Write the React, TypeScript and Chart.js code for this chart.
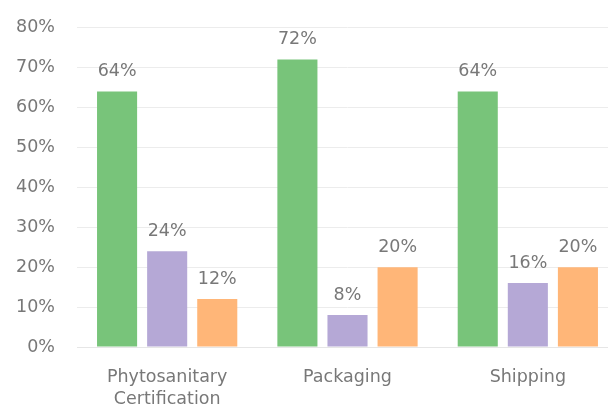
import React, { useEffect, useRef } from "react";
import { Chart, registerables } from "chart.js";

Chart.register(...registerables);

const categories: (string | string[])[] = [["Phytosanitary", "Certification"], "Packaging", "Shipping"];
const seriesA = [64, 72, 64];
const seriesB = [24, 8, 16];
const seriesC = [12, 20, 20];
const yTicks = [0, 10, 20, 30, 40, 50, 60, 70, 80];

const TEXT = "#787878";
const FONT = "'DejaVu Sans', sans-serif";
const SIZE = 17.5;

const labelPlugin = {
  id: "barLabels",
  afterDatasetsDraw(chart: any) {
    const ctx = chart.ctx;
    ctx.save();
    ctx.font = `${SIZE}px ${FONT}`;
    ctx.fillStyle = TEXT;
    ctx.textAlign = "center";
    ctx.textBaseline = "middle";
    chart.data.datasets.forEach((ds: any, i: number) => {
      const meta = chart.getDatasetMeta(i);
      meta.data.forEach((bar: any, j: number) => {
        ctx.fillText(`${ds.data[j]}%`, bar.x, bar.y - 20);
      });
    });
    ctx.restore();
  },
};

export default function App() {
  const ref = useRef<HTMLCanvasElement>(null);
  useEffect(() => {
    document.body.style.overflow = "hidden";
    const chart = new Chart(ref.current!, {
      type: "bar",
      data: {
        labels: categories,
        datasets: [
          { label: "A", data: seriesA, backgroundColor: "#78c47a" },
          { label: "B", data: seriesB, backgroundColor: "#b5a8d6" },
          { label: "C", data: seriesC, backgroundColor: "#ffb678" },
        ],
      },
      options: {
        animation: false,
        responsive: false,
        layout: { padding: { top: 21, right: 2, left: 0, bottom: 0 } },
        plugins: { legend: { display: false }, tooltip: { enabled: false } },
        datasets: { bar: { categoryPercentage: 150 / 180, barPercentage: 0.8 } },
        scales: {
          x: {
            grid: { display: false },
            border: { display: true, color: "#e6e6e6" },
            ticks: { color: TEXT, font: { family: FONT, size: SIZE, lineHeight: 1.25 }, padding: 12, maxRotation: 0, autoSkip: false },
            afterFit: (s: any) => { s.height = 65; },
          },
          y: {
            min: 0,
            max: 80,
            afterBuildTicks: (s: any) => { s.ticks = yTicks.map((v) => ({ value: v })); },
            grid: { color: "#ececec", drawTicks: false },
            border: { display: false },
            ticks: { color: TEXT, font: { family: FONT, size: SIZE }, padding: 22, callback: (v: any) => `${v}%` },
            afterFit: (s: any) => { s.width = 77; },
          },
        },
      },
      plugins: [labelPlugin],
    });
    return () => chart.destroy();
  }, []);
  return (
    <div style={{ position: "fixed", left: 0, top: 0, width: 608, height: 412, overflow: "hidden", background: "#fff" }}>
      <canvas ref={ref} width={620} height={417} style={{ display: "block", width: 620, height: 417, marginTop: -5 }} />
    </div>
  );
}
